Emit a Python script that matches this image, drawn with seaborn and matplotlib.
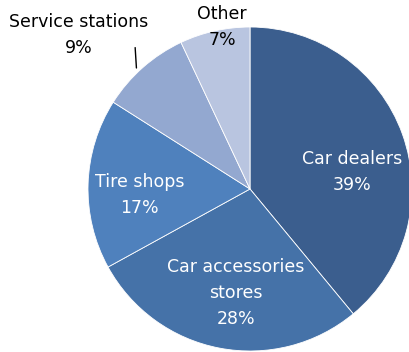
import numpy as np
import matplotlib
matplotlib.use("Agg")
import matplotlib.pyplot as plt
import seaborn as sns

categories = ["Car dealers", "Car accessories\nstores", "Tire shops", "Service stations", "Other"]
shares = [39, 28, 17, 9, 7]
colors = ["#3B5E8E", "#4572A8", "#4F81BD", "#93A8D0", "#B9C5E0"]
label_colors = ["white", "white", "white", "black", "black"]

sns.set_theme(style="white")
plt.rcParams["font.family"] = ["DejaVu Sans"]

fig = plt.figure(figsize=(4.10, 3.52), dpi=100)
ax = fig.add_axes([88 / 410, 1 / 352, 324 / 410, 324 / 352])
wedges, _ = ax.pie(shares, colors=colors, startangle=90, counterclock=False,
                   radius=1.0, wedgeprops=dict(edgecolor="white", linewidth=0.6))
ax.set_xlim(-1, 1)
ax.set_ylim(-1, 1)
ax.set_aspect("equal")
ax.axis("off")

fs = 12.5
ls = 1.55
label_pos = [(0.63, 0.105), (-0.086, -0.642), (-0.68, -0.037), None, (-0.173, 1.0)]
for i, (cat, val) in enumerate(zip(categories, shares)):
    txt = f"{cat}\n{val}%"
    if label_pos[i] is not None:
        ax.text(*label_pos[i], txt, ha="center", va="center", fontsize=fs,
                color=label_colors[i], linespacing=ls, clip_on=False)

# Service stations label outside with a leader line
ax.annotate("", xy=(-0.70, 0.73), xytext=(-0.71, 0.89),
            arrowprops=dict(arrowstyle="-", color="black", lw=1.0), annotation_clip=False)
ax.text(-1.06, 0.95, f"{categories[3]}\n{shares[3]}%", ha="center", va="center",
        fontsize=fs, color="black", linespacing=ls, clip_on=False)

fig.savefig("out.png", dpi=100, facecolor="white")
